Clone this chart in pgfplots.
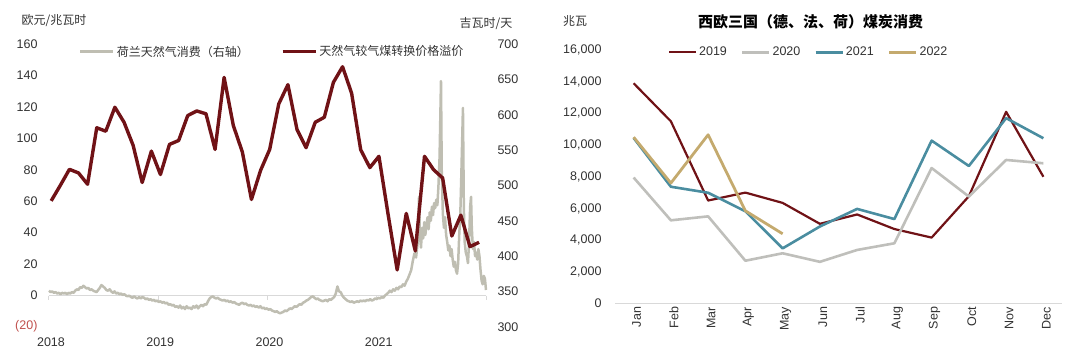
\documentclass[border=0pt]{standalone}
\usepackage{fontspec}
\setmainfont{Liberation Sans}
\newfontfamily\cjk{Noto Sans CJK SC}
\usepackage{pgfplots}
\pgfplotsset{compat=1.18}
\definecolor{maroon}{RGB}{112,18,22}
\definecolor{lgray}{RGB}{191,190,178}
\definecolor{g20}{RGB}{191,191,187}
\definecolor{teal21}{RGB}{74,141,160}
\definecolor{tan22}{RGB}{196,170,110}
\definecolor{axgray}{RGB}{217,217,217}
\definecolor{txt}{RGB}{50,50,50}
\definecolor{negred}{RGB}{192,80,77}
\begin{document}
\begin{tikzpicture}[x=1pt,y=1pt]
\path[use as bounding box] (0,0) rectangle (1080,357);
% ---------- left chart: gray series on right axis ----------
\begin{axis}[at={(49pt,30.3pt)}, anchor=south west, scale only axis,
  width=437pt, height=282.4pt,
  xmin=2018, xmax=2022, ymin=300, ymax=700,
  axis x line=none, axis y line*=right,
  axis line style={draw=none}, major tick length=0pt,
  xtick=\empty, ytick={300,350,...,700},
  yticklabels={300,350,400,450,500,550,600,650,700},
  yticklabel style={anchor=west, xshift=8pt, text=txt, font=\fontsize{12.5}{14}\selectfont},
  clip=false]
\draw[axgray, line width=1.2pt] (axis cs:2018,344) -- (axis cs:2022,344);
\draw[axgray, line width=1pt] (axis cs:2018,344) -- ++(0pt,-4pt);
\draw[axgray, line width=1pt] (axis cs:2019,344) -- ++(0pt,-4pt);
\draw[axgray, line width=1pt] (axis cs:2020,344) -- ++(0pt,-4pt);
\draw[axgray, line width=1pt] (axis cs:2021,344) -- ++(0pt,-4pt);
\draw[axgray, line width=1pt] (axis cs:2022,344) -- ++(0pt,-4pt);
\addplot[lgray, line width=2.5pt, line join=round] coordinates {
(2018.000,351)(2018.015,349)(2018.030,350)(2018.045,348)(2018.060,349)(2018.075,347)(2018.090,348)(2018.105,346)
(2018.120,348)(2018.135,347)(2018.150,348)(2018.165,346)(2018.180,348)(2018.195,347)(2018.210,349)(2018.225,348)
(2018.240,351)(2018.255,353)(2018.270,352)(2018.285,356)(2018.300,355)(2018.315,358)(2018.330,356)(2018.345,354)
(2018.360,355)(2018.375,352)(2018.390,353)(2018.405,351)(2018.420,350)(2018.435,349)(2018.450,352)(2018.465,355)
(2018.480,359)(2018.495,357)(2018.510,355)(2018.525,352)(2018.540,351)(2018.555,353)(2018.570,350)(2018.585,348)
(2018.600,350)(2018.615,347)(2018.630,348)(2018.645,346)(2018.660,347)(2018.675,345)(2018.690,346)(2018.705,344)
(2018.720,343)(2018.735,344)(2018.750,342)(2018.765,341)(2018.780,343)(2018.795,341)(2018.810,340)(2018.825,342)
(2018.840,340)(2018.855,342)(2018.870,341)(2018.885,339)(2018.900,340)(2018.915,338)(2018.930,339)(2018.945,337)
(2018.960,338)(2018.975,336)(2018.990,337)(2019.005,335)(2019.020,336)(2019.035,334)(2019.050,335)(2019.065,333)
(2019.080,334)(2019.095,331)(2019.110,332)(2019.125,330)(2019.140,331)(2019.155,328)(2019.170,329)(2019.185,327)
(2019.200,330)(2019.215,326)(2019.230,328)(2019.245,325)(2019.260,329)(2019.275,326)(2019.290,327)(2019.305,325)
(2019.320,329)(2019.335,327)(2019.350,330)(2019.365,326)(2019.380,329)(2019.395,331)(2019.410,329)(2019.425,332)
(2019.440,331)(2019.455,336)(2019.470,340)(2019.485,342)(2019.500,343)(2019.515,341)(2019.530,340)(2019.545,341)
(2019.560,339)(2019.575,338)(2019.590,337)(2019.605,338)(2019.620,336)(2019.635,337)(2019.650,335)(2019.665,336)
(2019.680,334)(2019.695,335)(2019.710,333)(2019.725,332)(2019.740,331)(2019.755,333)(2019.770,334)(2019.785,332)
(2019.800,333)(2019.815,331)(2019.830,330)(2019.845,331)(2019.860,329)(2019.875,330)(2019.890,328)(2019.905,329)
(2019.920,327)(2019.935,329)(2019.950,326)(2019.965,327)(2019.980,325)(2019.995,326)(2020.010,324)(2020.025,325)
(2020.040,323)(2020.055,322)(2020.070,321)(2020.085,322)(2020.100,320)(2020.115,319)(2020.130,320)(2020.145,321)
(2020.160,323)(2020.175,322)(2020.190,324)(2020.205,326)(2020.220,325)(2020.235,327)(2020.250,329)(2020.265,328)
(2020.280,330)(2020.295,332)(2020.310,331)(2020.325,334)(2020.340,335)(2020.355,337)(2020.370,338)(2020.385,340)
(2020.400,342)(2020.415,343)(2020.430,341)(2020.445,339)(2020.460,340)(2020.475,338)(2020.490,337)(2020.505,336)
(2020.520,337)(2020.535,338)(2020.550,336)(2020.565,339)(2020.580,338)(2020.595,340)(2020.610,342)(2020.625,347)
(2020.640,357)(2020.655,350)(2020.670,349)(2020.685,344)(2020.700,341)(2020.715,339)(2020.730,337)(2020.745,336)
(2020.760,335)(2020.775,336)(2020.790,334)(2020.805,335)(2020.820,336)(2020.835,335)(2020.850,337)(2020.865,336)
(2020.880,337)(2020.895,336)(2020.910,338)(2020.925,337)(2020.940,339)(2020.955,337)(2020.970,338)(2020.985,340)
(2021.000,339)(2021.015,341)(2021.030,340)(2021.045,342)(2021.060,341)(2021.075,344)(2021.090,346)(2021.105,348)
(2021.120,351)(2021.135,349)(2021.150,353)(2021.165,351)(2021.180,355)(2021.195,353)(2021.210,357)(2021.225,356)
(2021.240,360)(2021.255,358)(2021.270,364)(2021.285,368)(2021.300,374)(2021.315,380)(2021.330,393)(2021.345,404)
(2021.360,398)(2021.375,420)(2021.387,484)(2021.395,430)(2021.405,412)(2021.415,440)(2021.425,425)(2021.435,448)
(2021.445,430)(2021.455,445)(2021.465,455)(2021.475,438)(2021.485,462)(2021.495,450)(2021.505,470)(2021.515,458)
(2021.525,475)(2021.535,468)(2021.545,480)(2021.555,472)(2021.565,500)(2021.575,540)(2021.588,648)(2021.595,520)
(2021.605,460)(2021.615,440)(2021.625,455)(2021.635,430)(2021.645,420)(2021.655,408)(2021.665,415)(2021.675,400)
(2021.685,410)(2021.695,395)(2021.705,385)(2021.715,392)(2021.725,380)(2021.735,375)(2021.745,390)(2021.755,430)
(2021.765,460)(2021.775,520)(2021.789,610)(2021.797,470)(2021.805,420)(2021.815,405)(2021.825,400)(2021.835,390)
(2021.845,420)(2021.855,470)(2021.863,484)(2021.870,440)(2021.880,410)(2021.890,420)(2021.900,400)(2021.910,405)
(2021.920,395)(2021.930,410)(2021.940,400)(2021.950,380)(2021.960,365)(2021.970,360)(2021.980,372)(2021.990,368)
(2022.000,352)};
\end{axis}
% ---------- left chart: maroon series on left axis ----------
\begin{axis}[at={(49pt,30.3pt)}, anchor=south west, scale only axis,
  width=437pt, height=282.4pt,
  xmin=2018, xmax=2022, ymin=-20, ymax=160,
  axis x line*=bottom, axis y line*=left,
  axis line style={draw=none}, major tick length=0pt,
  xtick={2018,2019,2020,2021}, xticklabels={2018,2019,2020,2021},
  ytick={-20,0,...,160},
  yticklabels={\textcolor{negred}{(20)},0,20,40,60,80,100,120,140,160},
  yticklabel style={anchor=east, xshift=-8pt, text=txt, font=\fontsize{12.5}{14}\selectfont},
  xticklabel style={text=txt, yshift=-8pt, xshift=2pt, font=\fontsize{12.5}{14}\selectfont},
  legend columns=2,
  legend style={at={(0.068,0.974)}, anchor=west, draw=none, fill=none, inner sep=0pt,
    font=\cjk\fontsize{12}{14}\selectfont, text=txt,
    /tikz/every even column/.append style={column sep=30pt}},
  legend image code/.code={\draw[#1] (0pt,0pt) -- (33pt,0pt);},
  clip=false]
\addlegendimage{lgray, line width=3pt}
\addlegendentry{荷兰天然气消费（右轴）}
\addplot[maroon, line width=3.4pt, line join=round] coordinates {
(2018.020,60.2)(2018.103,70)(2018.187,80.3)(2018.270,78)(2018.353,70.8)(2018.437,106.8)(2018.520,104.6)(2018.603,119.9)
(2018.687,110.3)(2018.770,95.6)(2018.853,71.9)(2018.937,91.9)(2019.020,77)(2019.103,96.2)(2019.187,98.7)(2019.270,114.6)
(2019.353,117.5)(2019.437,115.7)(2019.520,93)(2019.603,138.9)(2019.687,108.3)(2019.770,91.3)(2019.853,61.1)(2019.937,79.7)
(2020.020,93)(2020.103,122)(2020.187,134.3)(2020.270,105.7)(2020.353,94.1)(2020.437,110.3)(2020.520,113.5)(2020.603,135.7)
(2020.687,145.7)(2020.770,128.8)(2020.853,92.8)(2020.937,81.4)(2021.020,88.6)(2021.103,52)(2021.187,16.2)(2021.270,52.2)
(2021.353,28.3)(2021.437,88.6)(2021.520,80.1)(2021.603,74.8)(2021.687,37.8)(2021.770,51.1)(2021.853,31)(2021.937,33.8)};
\addlegendentry{天然气较气煤转换价格溢价}
\end{axis}
\node[text=txt, font=\cjk\fontsize{12}{14}\selectfont] at (54,336.3) {欧元/兆瓦时};
\node[text=txt, font=\cjk\fontsize{12}{14}\selectfont] at (486,333.7) {吉瓦时/天};
% ---------- right chart ----------
\begin{axis}[at={(615pt,53.5pt)}, anchor=south west, scale only axis,
  width=447pt, height=253.5pt,
  xmin=0.5, xmax=12.5, ymin=0, ymax=16000,
  scaled y ticks=false,
  axis x line*=bottom, axis y line*=left,
  x axis line style={axgray, line width=1pt, -}, y axis line style={draw=none},
  major tick length=0pt,
  xtick={1,...,12}, xticklabels={Jan,Feb,Mar,Apr,May,Jun,Jul,Aug,Sep,Oct,Nov,Dec},
  xticklabel style={rotate=90, anchor=east, text=txt, xshift=0pt, yshift=-3pt, font=\fontsize{12.5}{14}\selectfont},
  ytick={0,2000,...,16000},
  yticklabels={0,{2,000},{4,000},{6,000},{8,000},{10,000},{12,000},{14,000},{16,000}},
  yticklabel style={anchor=east, xshift=-10pt, text=txt, font=\fontsize{12.5}{14}\selectfont},
  legend columns=4,
  legend style={at={(0.118,0.991)}, anchor=west, draw=none, fill=none, inner sep=0pt,
    font=\fontsize{12.5}{14}\selectfont, text=txt,
    /tikz/every even column/.append style={column sep=12pt}},
  legend image code/.code={\draw[#1] (0pt,0pt) -- (27pt,0pt);},
  clip=false]
\addplot[maroon, line width=2.2pt, line join=round] coordinates {
(1,13900)(2,11500)(3,6500)(4,7000)(5,6350)(6,5030)(7,5620)(8,4700)(9,4160)(10,6770)(11,12100)(12,8000)};
\addlegendentry{2019}
\addplot[g20, line width=2.6pt, line join=round] coordinates {
(1,7950)(2,5250)(3,5500)(4,2700)(5,3170)(6,2630)(7,3380)(8,3800)(9,8550)(10,6750)(11,9060)(12,8850)};
\addlegendentry{2020}
\addplot[teal21, line width=2.6pt, line join=round] coordinates {
(1,10450)(2,7370)(3,6990)(4,5820)(5,3480)(6,4860)(7,5970)(8,5330)(9,10280)(10,8680)(11,11700)(12,10430)};
\addlegendentry{2021}
\addplot[tan22, line width=2.8pt, line join=round] coordinates {
(1,10500)(2,7600)(3,10650)(4,5850)(5,4400)};
\addlegendentry{2022}
\end{axis}
\node[text=txt, font=\cjk\fontsize{12}{14}\selectfont] at (575,336.3) {兆瓦};
\node[text=black, font=\cjk\bfseries\fontsize{15}{17}\selectfont] at (810.7,335.3) {西欧三国（德、法、荷）煤炭消费};
\end{tikzpicture}
\end{document}
